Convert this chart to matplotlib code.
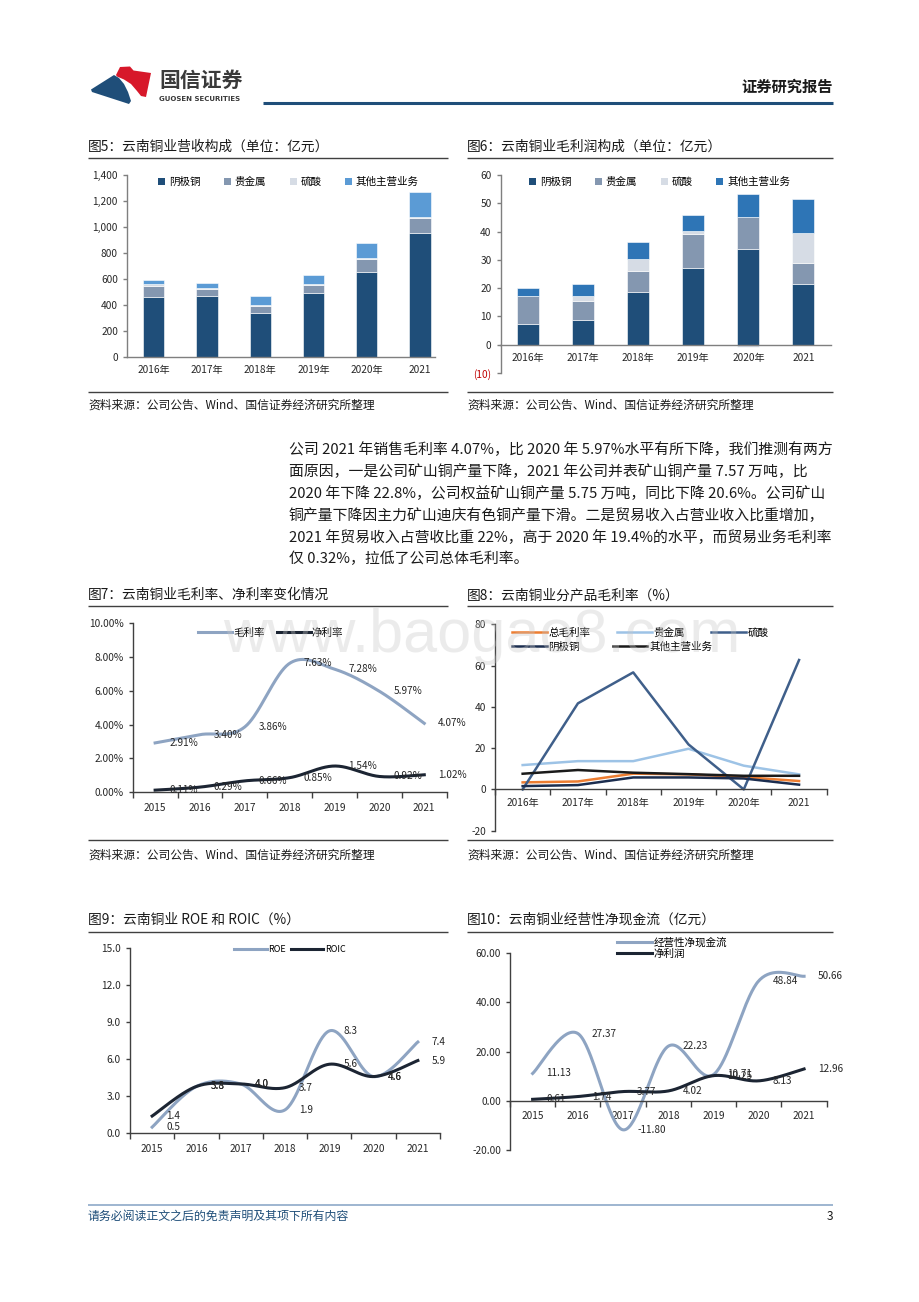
import numpy as np
import matplotlib
matplotlib.use('Agg')
import matplotlib.pyplot as plt
from matplotlib.patches import Polygon, Patch

plt.rcParams['font.family'] = ['Noto Sans CJK SC', 'DejaVu Sans']
plt.rcParams['axes.unicode_minus'] = False

W, H = 920, 1302

# ---------------- data ----------------
years6 = ['2016年', '2017年', '2018年', '2019年', '2020年', '2021']
years7 = ['2015', '2016', '2017', '2018', '2019', '2020', '2021']

rev_cathode = [461, 471, 335, 491, 653, 957]
rev_precious = [89, 51, 54, 64, 99, 110]
rev_sulfuric = [10, 5, 8, 7, 11, 13]
rev_other = [29, 41, 76, 70, 117, 190]

gp_cathode = [7.2, 8.7, 18.6, 27.2, 34.0, 21.3]
gp_precious = [10.1, 6.9, 7.5, 11.8, 11.3, 7.5]
gp_sulfuric = [0.0, 1.7, 4.1, 1.2, -0.8, 10.7]
gp_other = [2.6, 4.3, 6.1, 5.8, 8.1, 12.0]

gross_margin = [2.91, 3.40, 3.86, 7.63, 7.28, 5.97, 4.07]
net_margin = [0.11, 0.29, 0.66, 0.85, 1.54, 0.92, 1.02]

pm_total = [3.40, 3.86, 7.63, 7.28, 5.97, 4.07]
pm_precious = [11.8, 13.7, 13.7, 19.7, 11.5, 7.3]
pm_sulfuric = [0.0, 41.7, 56.7, 21.8, 0.0, 62.7]
pm_cathode = [1.6, 2.1, 5.8, 5.8, 5.3, 2.3]
pm_other = [7.6, 9.4, 8.1, 7.4, 6.6, 6.6]

roe = [0.5, 3.8, 4.0, 1.9, 8.3, 4.6, 7.4]
roic = [1.4, 3.8, 4.0, 3.7, 5.6, 4.6, 5.9]

ocf = [11.13, 27.37, -11.80, 22.23, 10.71, 48.84, 50.66]
net_profit = [0.61, 1.74, 3.77, 4.02, 10.25, 8.13, 12.96]

legend4 = ['阴极铜', '贵金属', '硫酸', '其他主营业务']
source_txt = '资料来源：公司公告、Wind、国信证券经济研究所整理'

paragraph = [
    '公司 2021 年销售毛利率 4.07%，比 2020 年 5.97%水平有所下降，我们推测有两方',
    '面原因，一是公司矿山铜产量下降，2021 年公司并表矿山铜产量 7.57 万吨，比',
    '2020 年下降 22.8%，公司权益矿山铜产量 5.75 万吨，同比下降 20.6%。公司矿山',
    '铜产量下降因主力矿山迪庆有色铜产量下滑。二是贸易收入占营业收入比重增加，',
    '2021 年贸易收入占营收比重 22%，高于 2020 年 19.4%的水平，而贸易业务毛利率',
    '仅 0.32%，拉低了公司总体毛利率。',
]

# ---------------- colours ----------------
C_CATH = '#1F4E79'
C_PREC = '#8497B0'
C_SULF = '#D6DCE5'
C_OTH5 = '#5B9BD5'
C_OTH6 = '#2E75B6'
C_LIGHT = '#8EA4C2'
C_DARK = '#1C2533'
TXT = '#262626'

fig = plt.figure(figsize=(W / 100, H / 100), dpi=100)
bg = fig.add_axes([0, 0, 1, 1])
bg.set_xlim(0, W)
bg.set_ylim(H, 0)
bg.axis('off')


def add_ax(x0, y0, x1, y1):
    a = fig.add_axes([x0 / W, 1 - y1 / H, (x1 - x0) / W, (y1 - y0) / H])
    a.set_facecolor('none')
    return a


def hline(x0, x1, y, color='#404040', lw=1.0):
    bg.plot([x0, x1], [y, y], color=color, lw=lw, solid_capstyle='butt')


def smooth(x, y, n=40):
    P = np.column_stack([np.asarray(x, float), np.asarray(y, float)])
    out = [P[0]]
    t = np.linspace(0, 1, n)[1:, None]
    for i in range(len(P) - 1):
        p0 = P[i - 1] if i > 0 else P[i]
        p1, p2 = P[i], P[i + 1]
        p3 = P[i + 2] if i + 2 < len(P) else P[i + 1]
        c1 = p1 + (p2 - p0) / 6
        c2 = p2 - (p3 - p1) / 6
        seg = (1 - t) ** 3 * p1 + 3 * (1 - t) ** 2 * t * c1 + 3 * (1 - t) * t ** 2 * c2 + t ** 3 * p2
        out.extend(seg)
    out = np.array(out)
    return out[:, 0], out[:, 1]


def style(ax, spine_color='#595959'):
    for s in ['top', 'right']:
        ax.spines[s].set_visible(False)
    for s in ['left', 'bottom']:
        ax.spines[s].set_color(spine_color)
        ax.spines[s].set_linewidth(1.0)
    ax.tick_params(colors=TXT, labelsize=7.3)
    ax.tick_params(axis='y', direction='out', length=3, color=spine_color, width=1)


# ---------------- header ----------------
red = Polygon([(116, 75), (120, 67), (130, 66.5), (133.5, 70.5), (151, 73), (146, 97), (141, 96),
               (137, 91), (131, 84), (124, 79.5), (117, 76.5)], closed=True, color='#D7182A', lw=0)
blue = Polygon([(91, 89.5), (114, 75), (119, 78), (124, 84), (128, 92), (131, 101), (129, 104),
                (92, 92)], closed=True, color='#1F4E79', lw=0)
bg.add_patch(red)
bg.add_patch(blue)
bg.text(159, 80, '国信证券', fontsize=15, fontweight='bold', color='#3A3A3A', va='center', ha='left')
bg.text(159, 99, 'GUOSEN SECURITIES', fontsize=5, fontweight='bold', color='#3A3A3A', va='center',
        ha='left', family='DejaVu Sans')
bg.text(833, 87, '证券研究报告', fontsize=11, fontweight='bold', color='#1a1a1a', va='center', ha='right')
hline(263, 833, 103, color='#1F4E79', lw=2.2)


# ---------------- titles / sources ----------------
def title(x, y, s):
    bg.text(x, y, s, fontsize=9.9, color='#1a1a1a', va='center', ha='left')


title(88, 147, '图5：云南铜业营收构成（单位：亿元）')
title(467, 147, '图6：云南铜业毛利润构成（单位：亿元）')
title(88, 595, '图7：云南铜业毛利率、净利率变化情况')
title(467, 595, '图8：云南铜业分产品毛利率（%）')
title(88, 920, '图9：云南铜业 ROE 和 ROIC（%）')
title(467, 920, '图10：云南铜业经营性净现金流（亿元）')
for (x0, x1) in [(88, 448), (467, 833)]:
    hline(x0, x1, 158)
    hline(x0, x1, 392)
    hline(x0, x1, 606)
    hline(x0, x1, 840)
    hline(x0, x1, 932)
    bg.text(x0, 405, source_txt, fontsize=8.5, color='#1a1a1a', va='center', ha='left')
    bg.text(x0, 855, source_txt, fontsize=8.5, color='#1a1a1a', va='center', ha='left')

# paragraph
for i, line in enumerate(paragraph):
    bg.text(289, 450 + i * 21.8, line, fontsize=10.7, color='#1a1a1a', va='center', ha='left')

# footer
hline(88, 833, 1205, color='#8EA9C8', lw=1.2)
bg.text(88, 1216, '请务必阅读正文之后的免责声明及其项下所有内容', fontsize=8.6, color='#1F4E79',
        va='center', ha='left')
bg.text(833, 1216, '3', fontsize=8.6, color='#1a1a1a', va='center', ha='right')

x6 = np.arange(6)
x7 = np.arange(7)


def stacked(ax, series, colors, width):
    pos = np.zeros(len(series[0]))
    for vals, col, lab in zip(series, colors, legend4):
        vals = np.asarray(vals, float)
        bottoms = np.where(vals >= 0, pos, 0.0)
        ax.bar(x6, vals, width, bottom=bottoms, color=col, label=lab, edgecolor='white', linewidth=0.4)
        pos = pos + np.clip(vals, 0, None)


def sq_legend(ax, colors, anchor):
    handles = [Patch(facecolor=c, edgecolor='none') for c in colors]
    ax.legend(handles, legend4, ncol=4, frameon=False, loc='center left', bbox_to_anchor=anchor,
              fontsize=7.6, handlelength=0.7, handleheight=0.7, handletextpad=0.35,
              columnspacing=2.2, borderpad=0, borderaxespad=0)


# ---------------- chart 5 ----------------
ax5 = add_ax(127, 175, 435, 357)
stacked(ax5, [rev_cathode, rev_precious, rev_sulfuric, rev_other], [C_CATH, C_PREC, C_SULF, C_OTH5], 0.4)
ax5.set_ylim(0, 1400)
ax5.set_xlim(-0.5, 5.28)
style(ax5, '#7F7F7F')
ax5.set_yticks(np.arange(0, 1401, 200))
ax5.set_yticklabels([f'{v:,}' for v in range(0, 1401, 200)])
ax5.set_xticks(x6)
ax5.set_xticklabels(years6)
ax5.tick_params(axis='x', length=0, pad=6)
sq_legend(ax5, [C_CATH, C_PREC, C_SULF, C_OTH5], ((158 - 127) / 308, (357 - 182) / 182))

# ---------------- chart 6 ----------------
ax6 = add_ax(500.5, 175, 831, 373)
stacked(ax6, [gp_cathode, gp_precious, gp_sulfuric, gp_other], [C_CATH, C_PREC, C_SULF, C_OTH6], 0.4)
ax6.set_ylim(-10, 60)
ax6.set_xlim(-0.5, 5.5)
style(ax6, '#7F7F7F')
ax6.spines['bottom'].set_position(('data', 0))
ax6.set_yticks(np.arange(-10, 61, 10))
ylabs6 = ['(10)'] + [str(v) for v in range(0, 61, 10)]
ax6.set_yticklabels(ylabs6)
ax6.get_yticklabels()[0].set_color('#C00000')
ax6.set_xticks(x6)
ax6.set_xticklabels(years6)
ax6.tick_params(axis='x', length=0, pad=6)
sq_legend(ax6, [C_CATH, C_PREC, C_SULF, C_OTH6], ((529 - 500.5) / 330.5, (373 - 182) / 198))


def cat_axis(ax, n, labels, pad):
    ax.set_xlim(-0.5, n - 0.5)
    ax.set_xticks(np.arange(n))
    ax.set_xticklabels(labels)
    ax.set_xticks(np.arange(-0.5, n, 1), minor=True)
    ax.tick_params(axis='x', which='major', length=0, pad=pad, labelsize=7.3)
    ax.tick_params(axis='x', which='minor', length=4, direction='out', color='#404040', width=1)


def labels_right(ax, vals, fmt):
    for i, v in enumerate(vals):
        ax.annotate(fmt.format(v), (i, v), xytext=(14, 0), textcoords='offset pixels',
                    ha='left', va='center', fontsize=7.2, color=TXT)


# ---------------- chart 7 ----------------
ax7 = add_ax(132.7, 623.3, 446.7, 792)
sx, sy = smooth(x7, gross_margin)
ax7.plot(sx, sy, color=C_LIGHT, lw=2.2, label='毛利率')
sx, sy = smooth(x7, net_margin)
ax7.plot(sx, sy, color=C_DARK, lw=2.2, label='净利率')
labels_right(ax7, gross_margin, '{:.2f}%')
labels_right(ax7, net_margin, '{:.2f}%')
ax7.set_ylim(0, 10)
style(ax7, '#404040')
ax7.set_yticks(np.arange(0, 10.01, 2))
ax7.set_yticklabels([f'{v:.2f}%' for v in np.arange(0, 10.01, 2)])
cat_axis(ax7, 7, years7, 8)
ax7.legend(ncol=2, frameon=False, loc='center left', bbox_to_anchor=((198 - 132.7) / 314, (792 - 633) / 168.7),
           fontsize=7.6, handlelength=3.2, handletextpad=0.1, columnspacing=1.2, borderpad=0, borderaxespad=0)

# ---------------- chart 8 ----------------
ax8 = add_ax(495, 624.3, 826.7, 830.7)
l_tot, = ax8.plot(x6, pm_total, color='#ED7D31', lw=1.8, label='总毛利率')
l_pre, = ax8.plot(x6, pm_precious, color='#9DC3E6', lw=1.8, label='贵金属')
l_sul, = ax8.plot(x6, pm_sulfuric, color='#3F5F8A', lw=1.8, label='硫酸')
l_cat, = ax8.plot(x6, pm_cathode, color='#1B2D4F', lw=1.8, label='阴极铜')
l_oth, = ax8.plot(x6, pm_other, color='#1A1A1A', lw=1.8, label='其他主营业务')
ax8.set_ylim(-20, 80)
style(ax8, '#404040')
ax8.spines['bottom'].set_position(('data', 0))
ax8.set_yticks(np.arange(-20, 81, 20))
cat_axis(ax8, 6, years6, 6)
lg1 = ax8.legend([l_tot, l_pre, l_sul], ['总毛利率', '贵金属', '硫酸'], ncol=3, frameon=False,
                 loc='center left', bbox_to_anchor=((512 - 495) / 331.7, (830.7 - 632.7) / 206.4),
                 fontsize=7.6, handlelength=3.3, handletextpad=0.15, columnspacing=2.5, borderpad=0,
                 borderaxespad=0)
ax8.add_artist(lg1)
ax8.legend([l_cat, l_oth], ['阴极铜', '其他主营业务'], ncol=2, frameon=False,
           loc='center left', bbox_to_anchor=((512 - 495) / 331.7, (830.7 - 646.7) / 206.4),
           fontsize=7.6, handlelength=3.3, handletextpad=0.15, columnspacing=3.1, borderpad=0,
           borderaxespad=0)

# ---------------- chart 9 ----------------
ax9 = add_ax(130, 948.3, 440, 1133.3)
sx, sy = smooth(x7, roe)
ax9.plot(sx, sy, color=C_LIGHT, lw=2.2, label='ROE')
sx, sy = smooth(x7, roic)
ax9.plot(sx, sy, color=C_DARK, lw=2.2, label='ROIC')
labels_right(ax9, roe, '{:.1f}')
labels_right(ax9, roic, '{:.1f}')
ax9.set_ylim(0, 15)
style(ax9, '#404040')
ax9.set_yticks(np.arange(0, 15.01, 3))
ax9.set_yticklabels([f'{v:.1f}' for v in np.arange(0, 15.01, 3)])
cat_axis(ax9, 7, years7, 8)
ax9.legend(ncol=2, frameon=False, loc='center left', bbox_to_anchor=((234 - 130) / 310, (1133.3 - 950) / 185),
           fontsize=6.5, handlelength=3.6, handletextpad=0.15, columnspacing=0.6, borderpad=0, borderaxespad=0)

# ---------------- chart 10 ----------------
ax10 = add_ax(510, 953.3, 826.7, 1150)
sx, sy = smooth(x7, ocf)
ax10.plot(sx, sy, color=C_LIGHT, lw=2.2, label='经营性净现金流')
sx, sy = smooth(x7, net_profit)
ax10.plot(sx, sy, color=C_DARK, lw=2.2, label='净利润')
labels_right(ax10, ocf, '{:.2f}')
labels_right(ax10, net_profit, '{:.2f}')
ax10.set_ylim(-20, 60)
style(ax10, '#404040')
ax10.spines['bottom'].set_position(('data', 0))
ax10.set_yticks(np.arange(-20, 60.01, 20))
ax10.set_yticklabels([f'{v:.2f}' for v in np.arange(-20, 60.01, 20)])
cat_axis(ax10, 7, years7, 7)
ax10.legend(ncol=1, frameon=False, loc='upper left', bbox_to_anchor=((617 - 510) / 316.7, (1150 - 937) / 196.7),
            fontsize=7.6, handlelength=3.3, handletextpad=0.15, labelspacing=0.15, borderpad=0, borderaxespad=0)

# watermark
fig.text(223 / W, 1 - 652 / H, 'www.baogao8.com', fontsize=44, color='#C8C8C8', alpha=0.35,
         family='Liberation Sans', ha='left', va='baseline')

fig.savefig('out.png', dpi=100)
